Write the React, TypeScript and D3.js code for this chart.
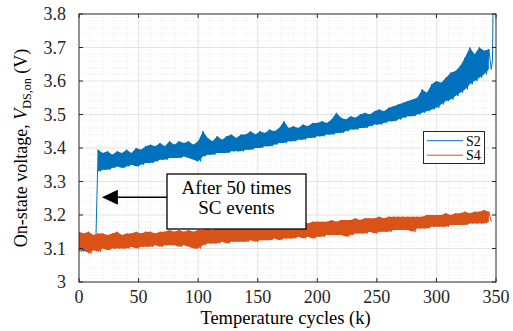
import React from "react";
import * as d3 from "d3";

// x sampling of the recorded traces (k cycles)
const cycles: number[] = d3.range(0, 347, 2);

// S2 on-state voltage (V), alternating upper/lower readings of the noisy trace
const s2Values: number[] = [
  3.14, 3.10, 3.14, 3.09, 3.13, 3.10, 3.14, 3.10, 3.395, 3.33,
  3.385, 3.335, 3.39, 3.335, 3.38, 3.34, 3.39, 3.345, 3.385, 3.34,
  3.395, 3.345, 3.385, 3.35, 3.40, 3.345, 3.395, 3.35, 3.405, 3.355,
  3.41, 3.355, 3.405, 3.36, 3.415, 3.365, 3.405, 3.365, 3.42, 3.37,
  3.41, 3.37, 3.42, 3.37, 3.415, 3.375, 3.42, 3.37, 3.41, 3.365,
  3.42, 3.36, 3.45, 3.375, 3.43, 3.38, 3.42, 3.38, 3.435, 3.385,
  3.425, 3.385, 3.435, 3.385, 3.44, 3.39, 3.43, 3.39, 3.44, 3.39,
  3.44, 3.395, 3.45, 3.395, 3.44, 3.40, 3.45, 3.40, 3.445, 3.405,
  3.455, 3.405, 3.45, 3.41, 3.46, 3.415, 3.48, 3.415, 3.46, 3.42,
  3.465, 3.42, 3.46, 3.425, 3.47, 3.425, 3.465, 3.43, 3.475, 3.43,
  3.475, 3.435, 3.48, 3.435, 3.475, 3.44, 3.485, 3.44, 3.505, 3.445,
  3.49, 3.445, 3.485, 3.45, 3.495, 3.455, 3.49, 3.455, 3.50, 3.46,
  3.505, 3.46, 3.50, 3.465, 3.51, 3.47, 3.515, 3.47, 3.51, 3.475,
  3.52, 3.48, 3.525, 3.48, 3.53, 3.485, 3.535, 3.49, 3.54, 3.495,
  3.545, 3.495, 3.55, 3.50, 3.575, 3.505, 3.565, 3.51, 3.59, 3.515,
  3.60, 3.52, 3.595, 3.53, 3.61, 3.54, 3.625, 3.545, 3.63, 3.555,
  3.645, 3.565, 3.67, 3.575, 3.70, 3.59, 3.68, 3.60, 3.70, 3.61,
  3.69, 3.62, 3.695, 3.635,
];
// final spike of S2
const s2TailCycles: number[] = [347, 347.6];
const s2TailValues: number[] = [3.66, 3.84];
// cycle at which the SC events produced the step of S2
const s2StepCycle = 15;

// S4 on-state voltage (V)
const s4Values: number[] = [
  3.15, 3.09, 3.145, 3.10, 3.15, 3.085, 3.14, 3.095, 3.145, 3.09,
  3.145, 3.10, 3.14, 3.095, 3.145, 3.10, 3.15, 3.10, 3.14, 3.10,
  3.145, 3.10, 3.145, 3.105, 3.15, 3.10, 3.145, 3.105, 3.15, 3.105,
  3.15, 3.105, 3.145, 3.11, 3.15, 3.105, 3.15, 3.11, 3.155, 3.11,
  3.15, 3.11, 3.155, 3.105, 3.15, 3.11, 3.155, 3.105, 3.15, 3.10,
  3.155, 3.10, 3.155, 3.11, 3.16, 3.115, 3.155, 3.115, 3.16, 3.115,
  3.16, 3.12, 3.16, 3.115, 3.165, 3.12, 3.16, 3.12, 3.165, 3.12,
  3.165, 3.12, 3.165, 3.125, 3.17, 3.12, 3.165, 3.125, 3.17, 3.125,
  3.17, 3.125, 3.17, 3.13, 3.175, 3.125, 3.17, 3.13, 3.175, 3.13,
  3.175, 3.13, 3.175, 3.135, 3.18, 3.13, 3.175, 3.135, 3.18, 3.13,
  3.18, 3.135, 3.18, 3.135, 3.18, 3.14, 3.185, 3.14, 3.18, 3.14,
  3.185, 3.14, 3.185, 3.135, 3.185, 3.14, 3.19, 3.145, 3.185, 3.145,
  3.19, 3.145, 3.19, 3.15, 3.19, 3.145, 3.195, 3.15, 3.19, 3.15,
  3.195, 3.15, 3.195, 3.155, 3.195, 3.155, 3.195, 3.155, 3.195, 3.155,
  3.195, 3.15, 3.195, 3.16, 3.195, 3.16, 3.20, 3.16, 3.20, 3.165,
  3.20, 3.165, 3.20, 3.165, 3.205, 3.165, 3.20, 3.17, 3.205, 3.17,
  3.205, 3.17, 3.21, 3.17, 3.205, 3.175, 3.21, 3.175, 3.21, 3.175,
  3.215, 3.175, 3.21, 3.18,
];

const xTicks: number[] = [0, 50, 100, 150, 200, 250, 300, 350];
const yTicks: number[] = [3, 3.1, 3.2, 3.3, 3.4, 3.5, 3.6, 3.7, 3.8];
const xMinor: number[] = d3.range(0, 351, 10);
const yMinor: number[] = d3.range(3, 3.8001, 0.02);
const seriesNames: string[] = ["S2", "S4"];
const seriesColors: string[] = ["#0072BD", "#D95319"];
const annotationLines: string[] = ["After 50 times", "SC events"];
const annotationTarget: [number, number] = [15, 3.25];

type Band = { c: number; hi: number; lo: number };

function toBands(vals: number[]): Band[] {
  const out: Band[] = [];
  for (let i = 0; i + 1 < vals.length; i += 2) {
    out.push({ c: cycles[i], hi: vals[i], lo: vals[i + 1] });
  }
  return out;
}

export default function App() {
  const W = 513, H = 331;
  const left = 79, right = 496, top = 14, bottom = 282;
  const x = d3.scaleLinear().domain([0, 350]).range([left, right]);
  const y = d3.scaleLinear().domain([3, 3.8]).range([bottom, top]);
  const font = "'Liberation Serif', 'Times New Roman', serif";
  const axisColor = "#262626";

  const s2Pts: [number, number][] = cycles
    .map((c, i) => [c, s2Values[i]] as [number, number])
    .concat(s2TailCycles.map((c, i) => [c, s2TailValues[i]] as [number, number]));
  const s4Pts: [number, number][] = cycles.map((c, i) => [c, s4Values[i]] as [number, number]);
  const line = d3
    .line<[number, number]>()
    .x((d) => x(d[0]))
    .y((d) => y(d[1]));
  const area = d3
    .area<Band>()
    .x((d) => x(d.c))
    .y0((d) => y(d.lo))
    .y1((d) => y(d.hi));

  const s2Bands = toBands(s2Values);
  const s2Before = s2Bands.filter((b) => b.c < s2StepCycle);
  const s2After = s2Bands.filter((b) => b.c > s2StepCycle);
  const s4Bands = toBands(s4Values);

  const tickLen = 4;
  const arrowY = y(annotationTarget[1]) - 1;
  const tipX = x(annotationTarget[0]) + 5;
  const boxL = 167, boxR = 306, boxT = 174, boxB = 229;

  return (
    <svg
      width={W}
      height={H}
      style={{ position: "absolute", left: 0, top: 0, background: "#fff", fontFamily: font }}
    >
      <rect x={0} y={0} width={W} height={H} fill="#fff" />
      <defs>
        <clipPath id="plotClip">
          <rect x={left} y={top} width={right - left} height={bottom - top} />
        </clipPath>
      </defs>
      {/* minor grid */}
      <g stroke="#dcdcdc" strokeWidth={0.6} strokeDasharray="1,2">
        {xMinor.filter((v) => v % 50 !== 0).map((v) => (
          <line key={"xm" + v} x1={x(v)} x2={x(v)} y1={top} y2={bottom} />
        ))}
        {yMinor
          .filter((v) => Math.abs(Math.round(v * 10) - v * 10) > 0.01)
          .map((v, i) => (
            <line key={"ym" + i} x1={left} x2={right} y1={y(v)} y2={y(v)} />
          ))}
      </g>
      {/* major grid */}
      <g stroke="#e3e3e3" strokeWidth={1}>
        {xTicks.slice(1, -1).map((v) => (
          <line key={"xg" + v} x1={x(v)} x2={x(v)} y1={top} y2={bottom} />
        ))}
        {yTicks.slice(1, -1).map((v) => (
          <line key={"yg" + v} x1={left} x2={right} y1={y(v)} y2={y(v)} />
        ))}
      </g>
      {/* data */}
      <g clipPath="url(#plotClip)">
        <path d={area(s2Before) || ""} fill={seriesColors[0]} />
        <path d={area(s2After) || ""} fill={seriesColors[0]} />
        <path d={line(s2Pts) || ""} stroke={seriesColors[0]} fill="none" strokeWidth={1} />
        <path d={area(s4Bands) || ""} fill={seriesColors[1]} />
        <path d={line(s4Pts) || ""} stroke={seriesColors[1]} fill="none" strokeWidth={1} />
      </g>
      {/* axes box */}
      <rect x={left} y={top} width={right - left} height={bottom - top} fill="none" stroke={axisColor} strokeWidth={1} />
      <g stroke={axisColor} strokeWidth={1}>
        {xTicks.map((v) => (
          <g key={"xt" + v}>
            <line x1={x(v)} x2={x(v)} y1={bottom} y2={bottom - tickLen} />
            <line x1={x(v)} x2={x(v)} y1={top} y2={top + tickLen} />
          </g>
        ))}
        {yTicks.map((v) => (
          <g key={"yt" + v}>
            <line x1={left} x2={left + tickLen} y1={y(v)} y2={y(v)} />
            <line x1={right} x2={right - tickLen} y1={y(v)} y2={y(v)} />
          </g>
        ))}
      </g>
      <g fill={axisColor} fontSize={18}>
        {xTicks.map((v) => (
          <text key={"xl" + v} x={x(v)} y={bottom + 21} textAnchor="middle">
            {v}
          </text>
        ))}
        {yTicks.map((v) => (
          <text key={"yl" + v} x={left - 13} y={y(v) + 6} textAnchor="end">
            {v === 3 ? "3" : v.toFixed(1)}
          </text>
        ))}
      </g>
      <text x={(left + right) / 2 - 2} y={bottom + 42} textAnchor="middle" fontSize={18.5} fill="#000">
        Temperature cycles (k)
      </text>
      <text
        transform={`translate(27, ${(top + bottom) / 2}) rotate(-90)`}
        textAnchor="middle"
        fontSize={18}
        fill="#000"
      >
        <tspan>On-state voltage, </tspan>
        <tspan fontStyle="italic">V</tspan>
        <tspan fontSize={12} dy={4}>DS,on</tspan>
        <tspan dy={-4}> (V)</tspan>
      </text>
      {/* legend */}
      <g>
        <rect x={423.5} y={131.5} width={61} height={32} fill="#fff" stroke={axisColor} strokeWidth={1} />
        {seriesNames.map((n, i) => (
          <g key={n}>
            <line x1={427} x2={463} y1={140.7 + i * 14.5} y2={140.7 + i * 14.5} stroke={seriesColors[i]} strokeWidth={1} />
            <text x={466} y={145.5 + i * 14.5} fontSize={14} fill="#000">
              {n}
            </text>
          </g>
        ))}
      </g>
      {/* annotation */}
      <g>
        <line x1={boxL} x2={tipX + 14} y1={arrowY} y2={arrowY} stroke="#000" strokeWidth={1.5} />
        <polygon
          points={`${tipX},${arrowY} ${tipX + 16},${arrowY - 7.5} ${tipX + 16},${arrowY + 7.5}`}
          fill="#000"
        />
        <rect x={boxL} y={boxT} width={boxR - boxL} height={boxB - boxT} fill="#fff" stroke="#000" strokeWidth={1.3} />
        {annotationLines.map((t, i) => (
          <text key={t} x={(boxL + boxR) / 2} y={194 + i * 20} textAnchor="middle" fontSize={19} fill="#000">
            {t}
          </text>
        ))}
      </g>
    </svg>
  );
}
